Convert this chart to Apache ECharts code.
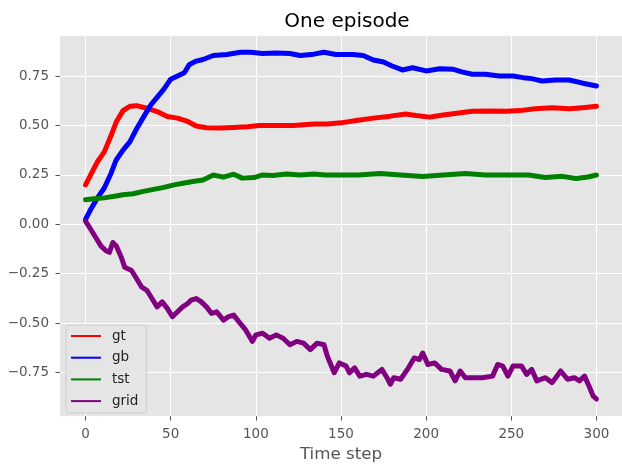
<!DOCTYPE html>
<html>
<head>
<meta charset="utf-8">
<script src="https://cdn.jsdelivr.net/npm/echarts@6/dist/echarts.min.js"></script>
<style>html,body{margin:0;padding:0;background:#fff;}#c{width:622px;height:468px;}</style>
</head>
<body>
<div id="c"></div>
<script>
const seriesNames = ['gt', 'gb', 'tst', 'grid'];
const seriesColors = ['#FF0000', '#0000FF', '#008000', '#800080'];
const xTicks = [0, 50, 100, 150, 200, 250, 300];
const yTicks = [-0.75, -0.5, -0.25, 0, 0.25, 0.5, 0.75];

const gtPoints = [[0,0.20],[3,0.25],[7,0.317],[11,0.367],[15,0.45],[18,0.518],[22,0.576],[26,0.598],[30,0.601],[36,0.588],[42,0.571],[48,0.546],[54,0.538],[60,0.521],[65,0.498],[71,0.489],[79,0.488],[87,0.491],[95,0.494],[102,0.501],[110,0.501],[122,0.501],[134,0.508],[142,0.508],[150,0.514],[159,0.526],[169,0.538],[179,0.548],[188,0.559],[194,0.551],[202,0.543],[210,0.554],[218,0.563],[227,0.573],[237,0.574],[247,0.573],[255,0.576],[264,0.585],[274,0.59],[284,0.585],[292,0.591],[300,0.598]];

const gbPoints = [[0,0.025],[3,0.075],[7,0.134],[11,0.184],[15,0.259],[18,0.326],[22,0.376],[26,0.418],[30,0.484],[34,0.543],[38,0.601],[42,0.643],[46,0.685],[50,0.735],[54,0.751],[58,0.768],[61,0.81],[65,0.827],[69,0.835],[75,0.855],[83,0.86],[91,0.872],[97,0.872],[104,0.865],[112,0.868],[120,0.865],[126,0.855],[134,0.862],[140,0.872],[147,0.86],[150,0.86],[157,0.86],[163,0.855],[169,0.832],[175,0.822],[180,0.802],[186,0.782],[192,0.793],[200,0.777],[208,0.788],[216,0.785],[221,0.772],[227,0.76],[235,0.76],[243,0.751],[251,0.751],[257,0.743],[262,0.738],[268,0.726],[276,0.731],[284,0.731],[292,0.715],[300,0.701]];

const tstPoints = [[0,0.125],[5,0.13],[11,0.134],[17,0.142],[22,0.15],[28,0.155],[34,0.167],[40,0.177],[46,0.187],[52,0.2],[58,0.209],[63,0.217],[69,0.225],[75,0.25],[81,0.239],[87,0.254],[92,0.234],[99,0.237],[104,0.25],[110,0.247],[118,0.255],[126,0.25],[134,0.255],[141,0.25],[149,0.25],[160,0.25],[173,0.258],[185,0.25],[198,0.242],[210,0.25],[223,0.258],[235,0.25],[248,0.25],[260,0.25],[270,0.237],[280,0.243],[288,0.232],[295,0.24],[300,0.25]];

const gridPoints = [[0,0.016],[3,-0.025],[6,-0.067],[9,-0.109],[12,-0.134],[14,-0.142],[16,-0.092],[18,-0.109],[21,-0.167],[23,-0.218],[27,-0.234],[30,-0.276],[33,-0.318],[36,-0.334],[39,-0.376],[42,-0.418],[45,-0.393],[48,-0.426],[51,-0.468],[54,-0.443],[57,-0.418],[60,-0.401],[62,-0.384],[65,-0.376],[68,-0.393],[71,-0.418],[74,-0.451],[77,-0.443],[81,-0.485],[84,-0.468],[87,-0.46],[90,-0.493],[94,-0.535],[98,-0.593],[100,-0.56],[104,-0.552],[108,-0.577],[112,-0.56],[116,-0.577],[120,-0.61],[124,-0.593],[128,-0.602],[132,-0.635],[136,-0.602],[140,-0.61],[142,-0.668],[146,-0.752],[149,-0.702],[150,-0.694],[153,-0.718],[155,-0.752],[158,-0.727],[161,-0.769],[165,-0.76],[169,-0.769],[174,-0.735],[177,-0.777],[179,-0.81],[181,-0.777],[185,-0.785],[189,-0.735],[193,-0.677],[196,-0.685],[198,-0.652],[201,-0.71],[205,-0.702],[209,-0.735],[214,-0.743],[217,-0.793],[220,-0.743],[223,-0.777],[227,-0.777],[233,-0.777],[239,-0.769],[242,-0.71],[245,-0.718],[248,-0.769],[251,-0.718],[256,-0.718],[259,-0.76],[262,-0.735],[265,-0.793],[270,-0.777],[274,-0.802],[279,-0.743],[283,-0.785],[287,-0.777],[290,-0.793],[293,-0.769],[296,-0.827],[298,-0.869],[300,-0.885]];

const allPoints = [gtPoints, gbPoints, tstPoints, gridPoints];
const FONT = 'DejaVu Sans';

const gridLineSeries = {
  name: '_gridlines', type: 'line', data: [], silent: true,
  zlevel: 0, z: 1,
  markLine: {
    silent: true, symbol: 'none', label: {show: false},
    lineStyle: {color: '#ffffff', width: 1, type: 'solid'},
    emphasis: {disabled: true},
    data: xTicks.map(v => ({xAxis: v})).concat(yTicks.map(v => ({yAxis: v})))
  }
};

const chart = echarts.init(document.getElementById('c'), null, {renderer: 'canvas'});
chart.setOption({
  animation: false,
  backgroundColor: '#ffffff',
  title: {
    text: 'One episode',
    left: 342, top: 7, textAlign: 'center',
    textStyle: {fontFamily: FONT, fontSize: 20, fontWeight: 'normal', color: '#000'}
  },
  legend: {
    orient: 'vertical',
    left: 66, top: 325, zlevel: 2,
    data: seriesNames.map(n => ({name: n, icon: 'rect'})),
    itemWidth: 30, itemHeight: 2, itemGap: 5.7,
    padding: [3, 8, 4, 5],
    backgroundColor: '#E5E5E5',
    borderColor: '#CCCCCC', borderWidth: 1, borderRadius: 3,
    textStyle: {fontFamily: FONT, fontSize: 13.5, color: '#222', lineHeight: 16, padding: [0, 0, 0, 6]}
  },
  grid: {
    left: 60, top: 35.7, width: 564.3, height: 385,
    show: true, backgroundColor: '#E5E5E5', borderWidth: 0
  },
  xAxis: {
    type: 'value', min: -15, max: 315,
    axisLine: {show: false, onZero: false},
    axisTick: {show: true, length: 4.5, customValues: xTicks, lineStyle: {color: '#555555', width: 1}},
    axisLabel: {customValues: xTicks, color: '#555555', fontFamily: FONT, fontSize: 13.5, margin: 11},
    splitLine: {show: false},
    name: 'Time step', nameLocation: 'middle', nameGap: 29,
    nameTextStyle: {color: '#555555', fontFamily: FONT, fontSize: 16.7}
  },
  yAxis: {
    type: 'value', min: -0.9715, max: 0.9555,
    axisLine: {show: false, onZero: false},
    axisTick: {show: true, length: 4.5, customValues: yTicks, lineStyle: {color: '#555555', width: 1}},
    axisLabel: {customValues: yTicks, color: '#555555', fontFamily: FONT, fontSize: 13.5, margin: 11,
      formatter: v => (v < 0 ? '\u2212' : '') + Math.abs(v).toFixed(2)},
    splitLine: {show: false}
  },
  series: [gridLineSeries].concat(seriesNames.map((n, i) => ({
    name: n, type: 'line', data: allPoints[i],
    zlevel: 1, z: 2,
    showSymbol: false, symbol: 'circle',
    itemStyle: {color: seriesColors[i]},
    lineStyle: {color: seriesColors[i], width: 5, cap: 'round', join: 'round'},
    emphasis: {disabled: true}
  })))
});
</script>
</body>
</html>
